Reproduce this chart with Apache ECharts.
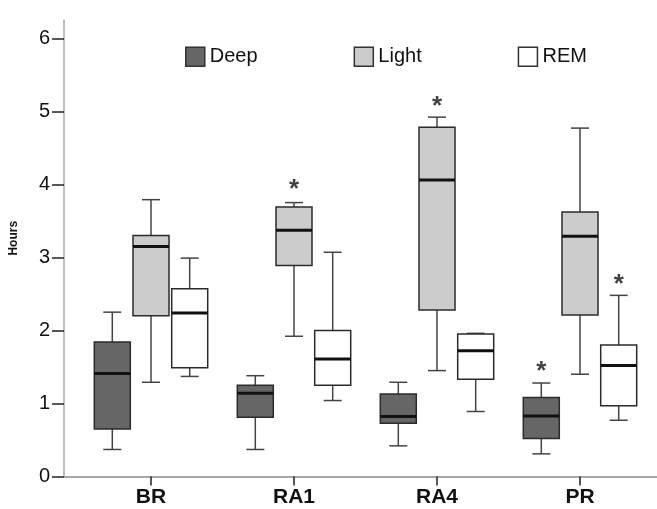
<!DOCTYPE html>
<html>
<head>
<meta charset="utf-8">
<title>Sleep stages</title>
<script src="https://cdn.jsdelivr.net/npm/echarts@6/dist/echarts.min.js"></script>
<style>
  html, body { margin: 0; padding: 0; background: #fff; }
  #chart { width: 657px; height: 509px; }
</style>
</head>
<body>
<div id="chart"></div>
<script>
// categories on the x axis
var groups = ['BR', 'RA1', 'RA4', 'PR']

// box data: [min, Q1, median, Q3, max] per group
var deepBox = [
  [0.37, 0.65, 1.41, 1.84, 2.25],
  [0.37, 0.81, 1.14, 1.25, 1.38],
  [0.42, 0.73, 0.82, 1.13, 1.29],
  [0.31, 0.52, 0.83, 1.08, 1.28]
]
var lightBox = [
  [1.29, 2.20, 3.15, 3.30, 3.79],
  [1.92, 2.89, 3.37, 3.69, 3.75],
  [1.45, 2.28, 4.06, 4.78, 4.92],
  [1.40, 2.21, 3.29, 3.62, 4.77]
]
var remBox = [
  [1.37, 1.49, 2.24, 2.57, 2.99],
  [1.04, 1.25, 1.61, 2.00, 3.07],
  [0.89, 1.33, 1.72, 1.95, 1.96],
  [0.77, 0.97, 1.52, 1.80, 2.48]
]

// asterisks (significance marks), '-' = none
var deepStar = ['-', '-', '-', 1.51]
var lightStar = ['-', 4.01, 5.14, '-']
var remStar = ['-', '-', '-', 2.70]

// y axis ticks
var yTicks = [0, 1, 2, 3, 4, 5, 6]

var yMax = 6.25
var plotTop = 20
var plotBottom = 32.5
var boxW = 36
var shift = 38.7 // distance between boxes of one group

var chart = echarts.init(document.getElementById('chart'))

// boxes drawn with a custom series: half-width whisker caps, thick median
function boxSeries (name, data, fill, dx) {
  return {
    name: name,
    type: 'custom',
    xAxisIndex: 1,
    yAxisIndex: 1,
    itemStyle: { color: fill, borderColor: '#333', borderWidth: 1.5 },
    encode: { x: 0, y: [1, 2, 3, 4, 5] },
    data: data.map(function (d, i) { return [i].concat(d) }),
    renderItem: function (params, api) {
      var i = api.value(0)
      var pMin = api.coord([i, api.value(1)])
      var pQ1 = api.coord([i, api.value(2)])
      var pMed = api.coord([i, api.value(3)])
      var pQ3 = api.coord([i, api.value(4)])
      var pMax = api.coord([i, api.value(5)])
      var cx = pMed[0] + dx
      var hw = boxW / 2
      var cap = boxW / 4
      var wStyle = { stroke: '#444', lineWidth: 1.5 }
      return {
        type: 'group',
        children: [
          { type: 'line', shape: { x1: cx, y1: pMax[1], x2: cx, y2: pQ3[1] }, style: wStyle },
          { type: 'line', shape: { x1: cx, y1: pQ1[1], x2: cx, y2: pMin[1] }, style: wStyle },
          { type: 'line', shape: { x1: cx - cap, y1: pMax[1], x2: cx + cap, y2: pMax[1] }, style: wStyle },
          { type: 'line', shape: { x1: cx - cap, y1: pMin[1], x2: cx + cap, y2: pMin[1] }, style: wStyle },
          {
            type: 'rect',
            shape: { x: cx - hw, y: pQ3[1], width: boxW, height: pQ1[1] - pQ3[1] },
            style: { fill: fill, stroke: '#2b2b2b', lineWidth: 1.5 }
          },
          {
            type: 'line',
            shape: { x1: cx - hw, y1: pMed[1], x2: cx + hw, y2: pMed[1] },
            style: { stroke: '#111', lineWidth: 3 }
          }
        ]
      }
    },
    silent: true
  }
}

function starSeries (data, dx) {
  return {
    type: 'scatter',
    xAxisIndex: 1,
    yAxisIndex: 1,
    symbolSize: 0,
    data: data,
    label: {
      show: true,
      position: 'inside',
      formatter: '*',
      fontSize: 26,
      fontWeight: 'bold',
      color: '#111',
      offset: [dx, 6]
    },
    silent: true
  }
}

var option = {
  animation: false,
  textStyle: { fontFamily: 'Liberation Sans, Arial, sans-serif' },
  legend: {
    data: ['Deep', 'Light', 'REM'],
    left: 185,
    top: 46.5,
    padding: 0,
    icon: 'rect',
    itemWidth: 19,
    itemHeight: 19,
    itemGap: 96,
    itemStyle: { borderWidth: 1.5 },
    textStyle: { fontSize: 20, color: '#111' },
    selectedMode: false
  },
  grid: [
    // frame with the visible axes
    { left: 63, right: 0, top: plotTop, bottom: plotBottom },
    // plot area, category bands centred on each group
    { left: 79.5, width: 572, top: plotTop, bottom: plotBottom }
  ],
  xAxis: [
    {
      gridIndex: 0, type: 'value', min: 0, max: 1,
      axisLine: { show: true, lineStyle: { color: '#8c8c8c', width: 1.5 } },
      axisTick: { show: false }, axisLabel: { show: false }, splitLine: { show: false }
    },
    {
      gridIndex: 1, type: 'category', data: groups,
      axisLine: { show: false },
      axisTick: { show: true, alignWithLabel: true, length: 9, lineStyle: { color: '#222', width: 1.5 } },
      axisLabel: { fontSize: 21, fontWeight: 'bold', color: '#111', margin: 10 },
      splitLine: { show: false }
    }
  ],
  yAxis: [
    {
      gridIndex: 0, type: 'value', min: 0, max: yMax,
      name: 'Hours',
      nameLocation: 'middle',
      nameGap: 44,
      nameTextStyle: { fontSize: 12, fontWeight: 'bold', color: '#111', padding: [0, 0, 0, 20] },
      axisLine: { show: true, lineStyle: { color: '#aaa', width: 1.5 } },
      axisTick: { show: true, customValues: yTicks, length: 12, lineStyle: { color: '#222', width: 1.5 } },
      axisLabel: { customValues: yTicks, fontSize: 20, color: '#111', margin: 14 },
      splitLine: { show: false }
    },
    { gridIndex: 1, type: 'value', min: 0, max: yMax, show: false, splitLine: { show: false } }
  ],
  series: [
    boxSeries('Deep', deepBox, '#666666', -shift),
    boxSeries('Light', lightBox, '#cccccc', 0),
    boxSeries('REM', remBox, '#ffffff', shift),
    starSeries(deepStar, -shift),
    starSeries(lightStar, 0),
    starSeries(remStar, shift)
  ]
}

chart.setOption(option)
window.addEventListener('resize', function () {
  chart.resize()
})
</script>
</body>
</html>
